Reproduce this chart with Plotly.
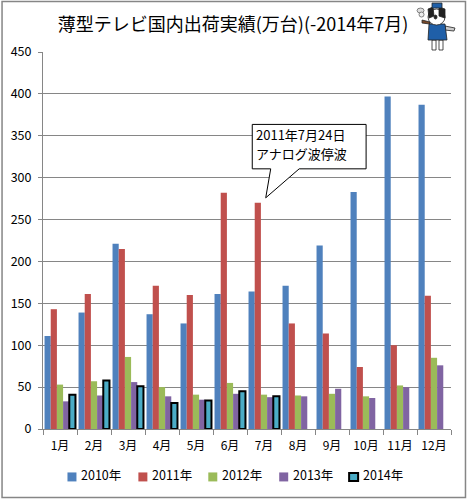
"""
薄型テレビ 国内出荷実績 (月別・年別の棒グラフ)
- 出力: out.html
"""
import plotly.graph_objects as go

# ── データ ──
MONTHS = ["1月", "2月", "3月", "4月", "5月", "6月", "7月", "8月", "9月", "10月", "11月", "12月"]
Y2010 = [111, 139, 221, 137, 126, 161, 164, 171, 219, 283, 397, 387]
Y2011 = [143, 161, 215, 171, 160, 282, 270, 126, 114, 74, 100, 159]
Y2012 = [53, 57, 86, 50, 41, 55, 41, 40, 42, 39, 52, 85]
Y2013 = [33, 40, 56, 39, 35, 42, 38, 39, 48, 37, 50, 76]
Y2014 = [41, 58, 51, 31, 34, 45, 39, None, None, None, None, None]
Y_TICKS = [0, 50, 100, 150, 200, 250, 300, 350, 400, 450]

FONT = "Noto Sans CJK JP"
GRAY = "#868686"
W, H = 468, 500
LEFT, RIGHT, TOP, BOTTOM = 42.5, 451, 52, 429.5


# 画像のピクセル位置 → paper 座標
def px(x):
    return (x - LEFT) / (RIGHT - LEFT)


def py(y):
    return (BOTTOM - y) / (BOTTOM - TOP)


def path(points):
    return "M" + " L".join(f"{px(x):.4f},{py(y):.4f}" for x, y in points) + " Z"


def poly(points, fill, line="#222222", width=0.8):
    return dict(type="path", xref="paper", yref="paper", path=path(points),
                fillcolor=fill, line=dict(color=line, width=width), layer="above")


def deco(kind, x0, y0, x1, y1, fill, line="#222222", width=0.8):
    return dict(
        type=kind, xref="paper", yref="paper",
        x0=px(x0), x1=px(x1), y0=py(y0), y1=py(y1),
        fillcolor=fill, line=dict(color=line, width=width), layer="above",
    )


def label(text, x, y, size):
    return dict(
        text=text, xref="paper", yref="paper", x=px(x), y=py(y),
        xanchor="left", yanchor="middle", showarrow=False,
        font=dict(size=size, family=FONT, color="black"),
    )


fig = go.Figure()
series = [
    ("2010年", Y2010, "#4F81BD"),
    ("2011年", Y2011, "#C0504D"),
    ("2012年", Y2012, "#9BBB59"),
    ("2013年", Y2013, "#8064A2"),
]
for name, values, color in series:
    fig.add_trace(go.Bar(name=name, x=MONTHS, y=values, marker=dict(color=color, line_width=0)))
fig.add_trace(go.Bar(
    name="2014年", x=MONTHS, y=Y2014,
    marker=dict(color="#4BACC6", line=dict(color="black", width=2)),
))

shapes = [
    # 外枠
    dict(type="rect", xref="paper", yref="paper", x0=px(1.5), x1=px(465.5), y0=py(1.5), y1=py(498),
         line=dict(color=GRAY, width=1.5), fillcolor="rgba(0,0,0,0)", layer="below"),
    # 吹き出し
    poly([(252, 124.5), (366, 124.5), (366, 169), (299, 169), (265.5, 198), (270.5, 169), (252, 169)],
         "white", "black", 1),
    # マスコット
    deco("circle", 417, 8, 424, 13, "#DDDDDD", "#666666"),
    deco("circle", 419, 12, 424, 17, "#EEEEEE", "#666666"),
    poly([(422, 20), (430, 22), (430, 24), (422, 23)], "#7A4A2A"),
    poly([(445, 26), (455, 28), (454, 31), (445, 30)], "#CCCCCC"),
    deco("rect", 432, 40, 436, 50, "white"),
    deco("rect", 439, 40, 443, 50, "white"),
    poly([(429, 24), (445, 24), (447, 40), (428, 40)], "#1F5FA8"),
    deco("circle", 428, 9, 445, 25, "white"),
    poly([(428, 9), (433, 7), (434, 16), (429, 18)], "#222222"),
    poly([(439, 7), (445, 9), (445, 18), (439, 16)], "#222222"),
    deco("rect", 432, 3, 442, 8, "#1F5FA8"),
    deco("circle", 434, 15, 437, 19, "#222222"),
]

# 吹き出しの文字
annotations = [
    label("2011年7月24日", 254, 134.5, 13),
    label("アナログ波停波", 254, 154, 13),
]

# 凡例 (棒の色見本 + 文字)
legend_items = [(s[0], s[2]) for s in series] + [("2014年", "#4BACC6")]
LEGEND_SWATCH_X = [67, 138, 208, 279, 349]
for (name, color), sx in zip(legend_items, LEGEND_SWATCH_X):
    if name == "2014年":
        shapes.append(deco("rect", sx, 473.5, sx + 9, 481.5, color, "black", 2))
    else:
        shapes.append(deco("rect", sx, 473, sx + 9, 482, color, color, 0))
    annotations.append(label(name, sx + 12, 475, 12.5))

fig.update_layout(
    width=W, height=H,
    margin=dict(l=LEFT, r=W - RIGHT, t=TOP, b=H - BOTTOM, autoexpand=False),
    paper_bgcolor="white", plot_bgcolor="white",
    barmode="group", bargap=0.09, bargroupgap=0, showlegend=False,
    font=dict(family=FONT, size=12, color="black"),
    title=dict(
        text="薄型テレビ国内出荷実績(万台)(-2014年7月)",
        x=(58 + 408) / 2 / W, xanchor="center", y=1 - 25 / H, yanchor="middle",
        font=dict(size=18, family=FONT, color="black"),
    ),
    xaxis=dict(
        type="category", tickson="boundaries", ticks="outside", ticklen=5, tickcolor=GRAY,
        showline=True, linecolor=GRAY, linewidth=1, showgrid=False,
        tickfont=dict(size=12), ticklabelstandoff=6, tickangle=0,
    ),
    yaxis=dict(
        range=[0, 450], tickvals=Y_TICKS, ticks="outside", ticklen=4, tickcolor=GRAY,
        showline=True, linecolor=GRAY, linewidth=1, showgrid=True, gridcolor=GRAY, gridwidth=1,
        zeroline=False, tickfont=dict(size=12.5), ticklabelstandoff=4,
    ),
    shapes=shapes,
    annotations=annotations,
)

fig.write_html(
    "out.html",
    config={"displayModeBar": False},
    post_script="document.body.style.margin='0';document.body.style.overflow='hidden';",
)
